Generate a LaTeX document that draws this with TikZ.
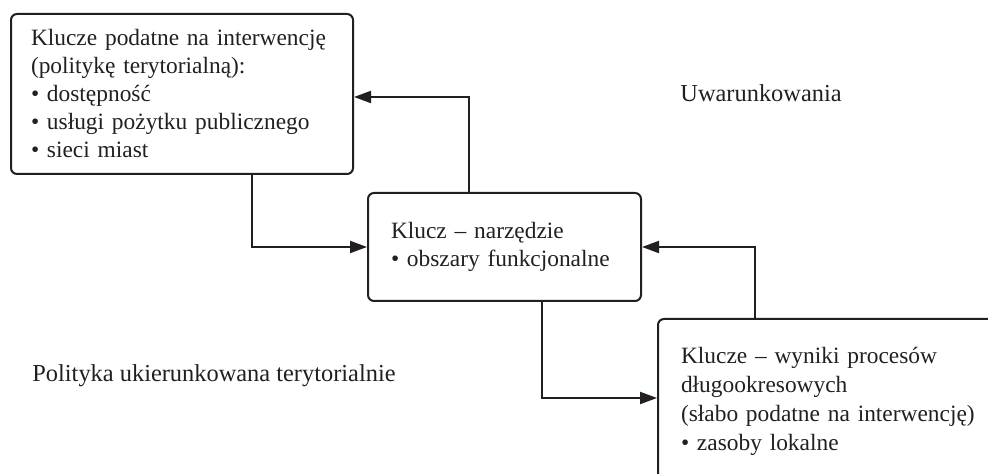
\documentclass[tikz,border=0pt]{standalone}
\usepackage{fontspec}
\setmainfont{Liberation Serif}
\usetikzlibrary{arrows.meta}
\definecolor{druk}{HTML}{231F20}

\begin{document}
\begin{tikzpicture}[x=0.5pt, y=-0.5pt,
		kluczbox/.style={draw=druk, line width=1pt, rounded corners=3pt, anchor=north west, align=left, text=druk, font=\fontsize{11.7}{14}\selectfont},
		opis/.style={anchor=base west, inner sep=0pt, text=druk, font=\fontsize{12.2}{14}\selectfont},
		strzalka/.style={draw=druk, line width=1pt, -{Triangle[length=8.5pt,width=6pt]}}]
		%%%%% START %%%%%
		
		\useasboundingbox (0,0) rectangle (988,474);
		\clip (0,0) rectangle (988,474);
		
		\node[kluczbox, minimum width=171pt, minimum height=80pt, inner xsep=10pt, text width=151pt] (podatne) at (10,13)
			{Klucze podatne na interwencję\\(politykę terytorialną):\\• dostępność\\• usługi pożytku publicznego\\• sieci miast};
		\node[kluczbox, minimum width=136.5pt, minimum height=54pt, inner xsep=11.5pt, text width=113.5pt] (narzedzie) at (367,192)
			{Klucz – narzędzie\\• obszary funkcjonalne};
		\node[kluczbox, minimum width=176.5pt, inner xsep=11.5pt, inner ysep=14pt, text width=153.5pt, font=\fontsize{11.7}{14.5}\selectfont] (wyniki) at (657,318)
			{Klucze – wyniki procesów\\długookresowych\\(słabo podatne na interwencję)\\• zasoby lokalne};
		
		\node[opis] (uwarunkowania) at (680,102) {Uwarunkowania};
		\node[opis] (polityka) at (32,382) {Polityka ukierunkowana terytorialnie};
		
		\draw[strzalka] ([xshift=-17.75pt]narzedzie.north) |- ([yshift=-1.5pt]podatne.east);
		\draw[strzalka] ([xshift=35pt]podatne.south) |- (narzedzie.west);
		\draw[strzalka] ([xshift=18.75pt]narzedzie.south) |- ([yshift=-40pt]wyniki.north west);
		\draw[strzalka] ([xshift=49pt]wyniki.north west) |- (narzedzie.east);
		
		%%%%% END %%%%%
	\end{tikzpicture}
\end{document}
